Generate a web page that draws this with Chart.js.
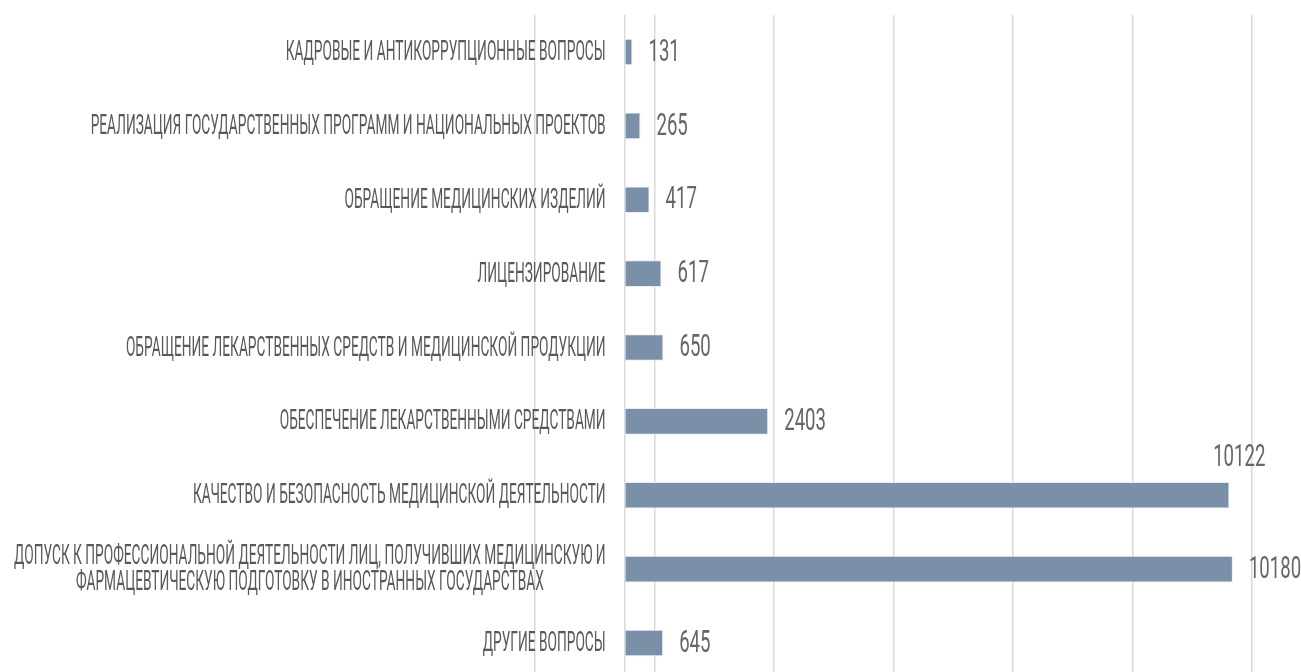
<!DOCTYPE html>
<html lang="ru">
<head>
  <meta charset="UTF-8">
  <title>Обращения по темам</title>
  <script src="https://cdn.jsdelivr.net/npm/chart.js"></script>
  <style>
    html, body {
      margin: 0;
      padding: 0;
      background-color: #FFFFFF;
      overflow: hidden;
    }

    #grafico {
      position: relative;
      width: 1301px;
      height: 690px;
    }
  </style>
</head>
<body>

<div id="grafico">
  <canvas id="temasChart"></canvas>
</div>

<script>
  // datos
  const categorias = [
    'КАДРОВЫЕ И АНТИКОРРУПЦИОННЫЕ ВОПРОСЫ',
    'РЕАЛИЗАЦИЯ ГОСУДАРСТВЕННЫХ ПРОГРАММ И НАЦИОНАЛЬНЫХ ПРОЕКТОВ',
    'ОБРАЩЕНИЕ МЕДИЦИНСКИХ ИЗДЕЛИЙ',
    'ЛИЦЕНЗИРОВАНИЕ',
    'ОБРАЩЕНИЕ ЛЕКАРСТВЕННЫХ СРЕДСТВ И МЕДИЦИНСКОЙ ПРОДУКЦИИ',
    'ОБЕСПЕЧЕНИЕ ЛЕКАРСТВЕННЫМИ СРЕДСТВАМИ',
    'КАЧЕСТВО И БЕЗОПАСНОСТЬ МЕДИЦИНСКОЙ ДЕЯТЕЛЬНОСТИ',
    ['ДОПУСК К ПРОФЕССИОНАЛЬНОЙ ДЕЯТЕЛЬНОСТИ ЛИЦ, ПОЛУЧИВШИХ МЕДИЦИНСКУЮ И',
     'ФАРМАЦЕВТИЧЕСКУЮ ПОДГОТОВКУ В ИНОСТРАННЫХ ГОСУДАРСТВАХ'],
    'ДРУГИЕ ВОПРОСЫ'
  ];
  const valores = [131, 265, 417, 617, 650, 2403, 10122, 10180, 645];
  const lineasGrid = [-1500, 0, 500, 2500, 4500, 6500, 8500, 10500];

  // fuente estrecha simulada: se comprime horizontalmente
  function textoEstrecho(ctx, txt, x, y, escala, alinear) {
    ctx.save();
    ctx.translate(x, y);
    ctx.scale(escala, 1);
    ctx.textAlign = alinear;
    ctx.fillText(txt, 0, 0);
    ctx.restore();
  }

  const etiquetasPlugin = {
    id: 'etiquetas',
    afterDatasetsDraw(chart) {
      const ctx = chart.ctx;
      const xs = chart.scales.x;
      const ys = chart.scales.y;
      const x0 = xs.getPixelForValue(0);
      const escCat = 0.49;
      ctx.textBaseline = 'middle';

      // categorias (bloque alineado a la derecha, lineas centradas)
      ctx.fillStyle = '#595959';
      ctx.font = '28px Roboto';
      categorias.forEach((cat, i) => {
        const y = ys.getPixelForValue(i);
        const lineas = Array.isArray(cat) ? cat : [cat];
        const ancho = Math.max(...lineas.map(l => ctx.measureText(l).width)) * escCat;
        const xc = x0 - 19 - ancho / 2;
        lineas.forEach((l, k) => {
          const dy = (k - (lineas.length - 1) / 2) * 26;
          textoEstrecho(ctx, l, xc, y + dy + 1, escCat, 'center');
        });
      });

      // valores
      ctx.fillStyle = '#666666';
      ctx.font = '31px Roboto';
      const meta = chart.getDatasetMeta(0);
      meta.data.forEach((bar, i) => {
        const v = String(valores[i]);
        if (i === 6) {
          textoEstrecho(ctx, v, bar.x + 36, bar.y - 37, 0.6, 'right');
        } else {
          textoEstrecho(ctx, v, bar.x + 16, bar.y + 1, 0.6, 'left');
        }
      });
    }
  };

  const ctx = document.getElementById('temasChart').getContext('2d');
  const chart = new Chart(ctx, {
    type: 'bar',
    data: {
      labels: categorias,
      datasets: [{
        data: valores,
        backgroundColor: '#7A8FA8',
        borderColor: '#E9EDF2',
        borderWidth: 1,
        categoryPercentage: 1,
        barPercentage: 0.36
      }]
    },
    options: {
      indexAxis: 'y',
      responsive: true,
      maintainAspectRatio: false,
      animation: false,
      layout: {
        padding: { left: 535, right: 49, top: 15, bottom: 10 }
      },
      scales: {
        x: {
          min: -1500,
          max: 10500,
          afterBuildTicks: (s) => {
            s.ticks = lineasGrid.map(v => ({ value: v }));
          },
          ticks: { display: false },
          grid: { color: '#D9D9D9', lineWidth: 1.5, drawTicks: false },
          border: { display: false }
        },
        y: {
          display: false
        }
      },
      plugins: {
        legend: { display: false },
        tooltip: { enabled: false }
      }
    },
    plugins: [etiquetasPlugin]
  });
</script>

</body>
</html>
